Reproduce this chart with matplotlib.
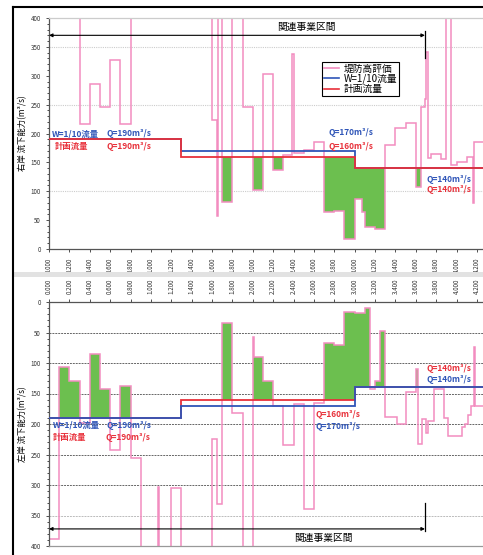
import numpy as np
import matplotlib
matplotlib.use("Agg")
import matplotlib.pyplot as plt
from matplotlib.lines import Line2D
from matplotlib.patches import Rectangle

plt.rcParams['font.family'] = ['Noto Sans CJK JP', 'DejaVu Sans']

# 距離標 (km)
km_ticks = np.round(np.arange(0, 4.21, 0.2), 1)
km_labels = [f"{v:.3f}" for v in km_ticks]

# 流量 (区間ごと)
flow_edges = [0.0, 1.3, 3.0, 4.26]
w10_flow = [190, 170, 140]
plan_flow = [190, 160, 140]

# 関連事業区間
section_km = (0.0, 3.69)

# 右岸 堤防高評価 流下能力 (400超は枠外)
r_edges = [0, 0.003, 0.3, 0.4, 0.5, 0.6, 0.7, 0.8, 1.6, 1.65, 1.66, 1.7, 1.8, 1.9,
           2.0, 2.1, 2.2, 2.3, 2.39, 2.40, 2.5, 2.6, 2.7, 2.8, 2.9, 3.0, 3.07, 3.1,
           3.2, 3.3, 3.4, 3.5, 3.6, 3.65, 3.69, 3.70, 3.72, 3.75, 3.85, 3.9, 3.95,
           4.0, 4.1, 4.16, 4.17, 4.26]
r_cap = [229, 500, 217, 286, 246, 328, 217, 500, 223, 57, 500, 81, 500, 246,
         102, 303, 137, 163, 338, 166, 172, 185, 64, 66, 17, 87, 64, 38,
         35, 180, 210, 218, 107, 246, 260, 341, 157, 165, 155, 500, 146,
         150, 160, 80, 185]

# 左岸 堤防高評価 流下能力
l_edges = [0, 0.1, 0.2, 0.3, 0.4, 0.5, 0.6, 0.7, 0.8, 0.9, 1.07, 1.08, 1.2, 1.3,
           1.6, 1.65, 1.7, 1.8, 1.9, 2.0, 2.01, 2.1, 2.2, 2.3, 2.4, 2.5, 2.6, 2.7,
           2.8, 2.9, 3.0, 3.1, 3.15, 3.2, 3.25, 3.3, 3.42, 3.5, 3.6, 3.62, 3.66,
           3.7, 3.72, 3.78, 3.88, 3.92, 4.05, 4.08, 4.11, 4.14, 4.17, 4.18, 4.26]
l_cap = [389, 107, 130, 199, 86, 143, 242, 138, 255, 500, 304, 500, 305,
         500, 224, 331, 35, 182, 500, 57, 90, 130, 170, 235, 168, 339, 166,
         67, 71, 16, 18, 10, 143, 130, 48, 189, 200, 148, 110, 232, 191,
         215, 195, 143, 190, 219, 205, 200, 185, 170, 74, 170]

PINK = "#f28dc0"
BLUE = "#2f55b8"
RED = "#e8303a"
GREEN = "#6cbf4f"

W, H = 483, 555


def green_bars(ax, edges, cap):
    # 計画流量を下回る区間を塗る
    xs = np.unique(np.concatenate([edges, flow_edges]))
    mid = (xs[:-1] + xs[1:]) / 2
    c = np.asarray(cap, float)[np.searchsorted(edges, mid) - 1]
    p = np.asarray(plan_flow, float)[np.searchsorted(flow_edges, mid) - 1]
    m = c < p
    ax.bar(xs[:-1][m], (p - c)[m], width=np.diff(xs)[m], bottom=c[m],
           align='edge', color=GREEN, lw=0, zorder=1)


def setup(ax, ylabel):
    ax.set_xlim(0, 4.26)
    ax.set_ylim(0, 400)
    ax.set_yticks(np.arange(0, 401, 50))
    ax.set_yticks(np.arange(0, 401, 10), minor=True)
    ax.set_xticks(km_ticks)
    ax.set_xticklabels(km_labels, rotation=90)
    ax.tick_params(axis='both', labelsize=4.5, length=2.5, width=0.6, colors='#333333')
    ax.tick_params(axis='y', which='minor', length=1.5, width=0.5)
    ax.set_ylabel(ylabel, fontsize=6, labelpad=2)
    for s in ax.spines.values():
        s.set_color('#555555')
        s.set_linewidth(0.9)
    ax.spines['right'].set_visible(False)


fig = plt.figure(figsize=(W / 100, H / 100), dpi=100)

# ---- 右岸 ----
ax1 = fig.add_axes([49 / W, 1 - 249 / H, 434 / W, 231 / H])
setup(ax1, "右岸 流下能力(m³/s)")
ax1.spines['top'].set_color('#cccccc')
for g in [100, 250, 350]:
    ax1.axhline(g, color='#cccccc', lw=0.8, ls=(0, (1, 1)), zorder=0)
green_bars(ax1, r_edges, r_cap)
ax1.stairs(r_cap, r_edges, color=PINK, lw=1.1, baseline=None, zorder=2)
ax1.stairs(w10_flow, flow_edges, color=BLUE, lw=1.3, baseline=None, zorder=3)
ax1.stairs(plan_flow, flow_edges, color=RED, lw=1.3, baseline=None, zorder=4)

ax1.annotate('', xy=(section_km[0], 370), xytext=(section_km[1], 370),
             arrowprops=dict(arrowstyle='<|-|>', color='k', lw=0.8,
                             shrinkA=0, shrinkB=0, mutation_scale=5))
ax1.plot([section_km[1]] * 2, [330, 378], color='k', lw=0.9)
ax1.text(2.53, 385, "関連事業区間", fontsize=7, ha='center', va='center')

leg = [Line2D([], [], color=PINK, lw=1.2, label="堤防高評価"),
       Line2D([], [], color=BLUE, lw=1.2, label="W=1/10流量"),
       Line2D([], [], color=RED, lw=1.2, label="計画流量")]
lg = ax1.legend(handles=leg, loc='upper left', bbox_to_anchor=(0.629, 0.81),
                borderaxespad=0, fontsize=7, handlelength=1.6, handletextpad=0.4,
                labelspacing=0.0, borderpad=0.2, fancybox=False, framealpha=1)
lg.get_frame().set_edgecolor('k')
lg.get_frame().set_linewidth(0.8)

tk = dict(fontsize=6, fontweight='bold', va='center', ha='left')
ax1.text(0.03, 200, "W=1/10流量", color=BLUE, **tk)
ax1.text(0.56, 200, "Q=190m³/s", color=BLUE, **tk)
ax1.text(0.06, 177, "計画流量", color=RED, **tk)
ax1.text(0.56, 177, "Q=190m³/s", color=RED, **tk)
ax1.text(2.74, 201, "Q=170m³/s", color=BLUE, **tk)
ax1.text(2.74, 178, "Q=160m³/s", color=RED, **tk)
ax1.text(3.71, 121, "Q=140m³/s", color=BLUE, **tk)
ax1.text(3.71, 103, "Q=140m³/s", color=RED, **tk)

# ---- 左岸 ----
ax2 = fig.add_axes([49 / W, 1 - 546 / H, 434 / W, 244 / H])
setup(ax2, "左岸 流下能力(m³/s)")
ax2.invert_yaxis()
ax2.xaxis.tick_top()
ax2.spines['bottom'].set_color('#999999')
for g in range(50, 351, 50):
    ax2.axhline(g, color='#bbbbbb' if g == 350 else '#666666', lw=0.7,
                ls=(0, (2, 1)), zorder=0)
green_bars(ax2, l_edges, l_cap)
ax2.stairs(l_cap, l_edges, color=PINK, lw=1.1, baseline=None, zorder=2)
ax2.stairs(plan_flow, flow_edges, color=RED, lw=1.3, baseline=None, zorder=3)
ax2.stairs(w10_flow, flow_edges, color=BLUE, lw=1.3, baseline=None, zorder=4)

ax2.annotate('', xy=(section_km[0], 372), xytext=(section_km[1], 372),
             arrowprops=dict(arrowstyle='<|-|>', color='k', lw=0.8,
                             shrinkA=0, shrinkB=0, mutation_scale=5))
ax2.plot([section_km[1]] * 2, [330, 375], color='k', lw=0.9)
ax2.text(2.69, 387, "関連事業区間", fontsize=7, ha='center', va='center')

ax2.text(0.04, 202, "W=1/10流量", color=BLUE, **tk)
ax2.text(0.56, 202, "Q=190m³/s", color=BLUE, **tk)
ax2.text(0.04, 222, "計画流量", color=RED, **tk)
ax2.text(0.55, 222, "Q=190m³/s", color=RED, **tk)
ax2.text(2.62, 184, "Q=160m³/s", color=RED, **tk)
ax2.text(2.62, 204, "Q=170m³/s", color=BLUE, **tk)
ax2.text(3.71, 109, "Q=140m³/s", color=RED, **tk)
ax2.text(3.71, 127, "Q=140m³/s", color=BLUE, **tk)

# 外枠と区切り
fig.add_artist(Line2D([13 / W, 13 / W], [0, 1 - 7 / H], color='k', lw=1.5))
fig.add_artist(Line2D([13 / W, 1], [1 - 7 / H, 1 - 7 / H], color='k', lw=1.5))
fig.add_artist(Rectangle((14 / W, 1 - 277 / H), 1, 5 / H, color='#e2e2e2', lw=0))

fig.savefig("out.png", dpi=100)
